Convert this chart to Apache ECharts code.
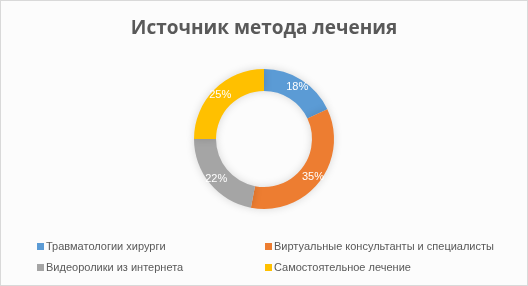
<!DOCTYPE html>
<html>
<head>
<meta charset="utf-8">
<script src="https://cdn.jsdelivr.net/npm/echarts@6/dist/echarts.min.js"></script>
<style>
  html, body { margin: 0; padding: 0; background: #fff; }
  #chart { width: 526px; height: 284px; border: 1px solid #d9d9d9; }
</style>
</head>
<body>
<div id="chart"></div>
<script>
const categories = ['Травматологии хирурги', 'Виртуальные консультанты и специалисты', 'Видеоролики из интернета', 'Самостоятельное лечение']
const values = [18, 35, 22, 25]
const colors = ['#5b9bd5', '#ed7d31', '#a5a5a5', '#ffc000']

const myChart = echarts.init(document.getElementById('chart'))

const legendText = { color: '#595959', fontSize: 11, fontFamily: 'Liberation Sans', padding: [0, 0, 0, -3] }

myChart.setOption({
  backgroundColor: '#fcfcfc',
  color: colors,
  title: {
    text: 'Источник метода лечения',
    left: 'center',
    top: 13,
    textStyle: { color: '#595959', fontSize: 19, fontWeight: 'bold', fontFamily: 'Open Sans' }
  },
  legend: [
    {
      data: [categories[0], categories[2]],
      orient: 'vertical',
      left: 31,
      top: 235,
      itemWidth: 7,
      itemHeight: 7,
      itemGap: 10,
      icon: 'rect',
      textStyle: legendText
    },
    {
      data: [categories[1], categories[3]],
      orient: 'vertical',
      left: 259,
      top: 235,
      itemWidth: 7,
      itemHeight: 7,
      itemGap: 10,
      icon: 'rect',
      textStyle: legendText
    }
  ],
  series: [
    {
      type: 'pie',
      center: [263, 138],
      radius: [48, 70],
      startAngle: 90,
      clockwise: true,
      silent: true,
      itemStyle: { shadowBlur: 8, shadowColor: 'rgba(0,0,0,0.15)' },
      label: {
        show: true,
        position: 'inside',
        formatter: '{c}%',
        color: '#fff',
        fontSize: 11,
        fontFamily: 'Liberation Sans'
      },
      labelLine: { show: false },
      data: categories.map((name, i) => ({ name: name, value: values[i] }))
    }
  ]
})
</script>
</body>
</html>
